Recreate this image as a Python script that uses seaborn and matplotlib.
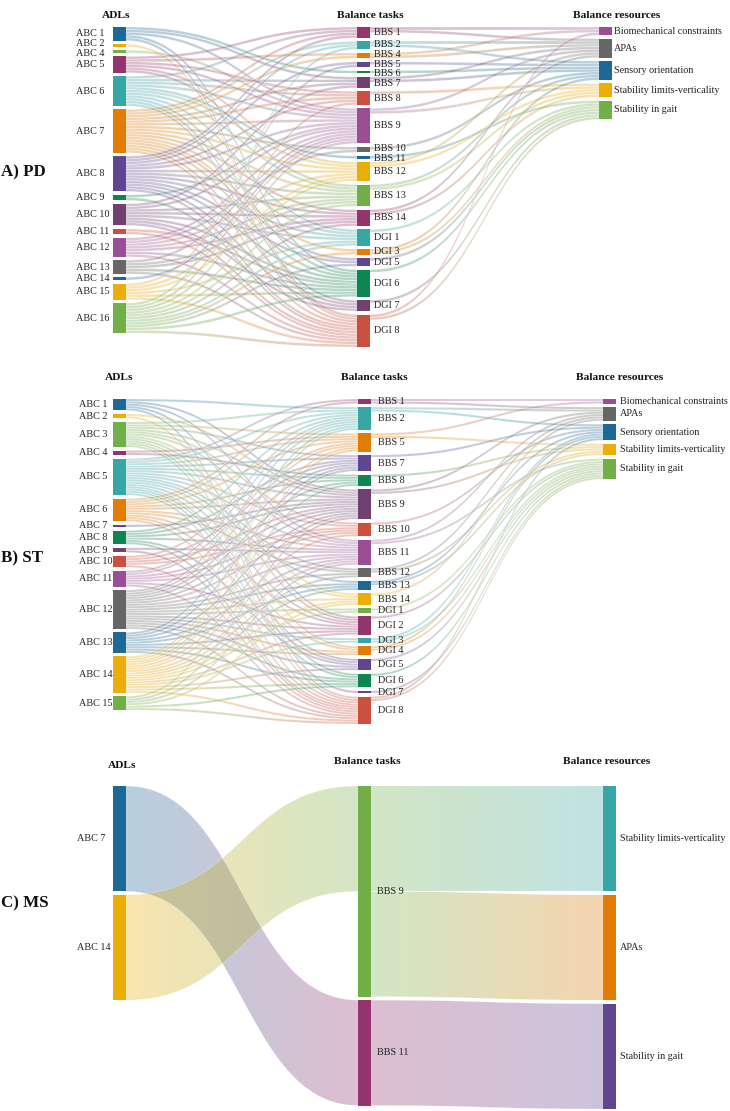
import numpy as np
import matplotlib
matplotlib.use("Agg")
import matplotlib.pyplot as plt
from matplotlib.patches import Polygon, Rectangle
from matplotlib.colors import to_rgb
import seaborn as sns

# colour cycle (Prism), given to nodes in order of appearance
PRISM = ["#1D6996", "#EDAD08", "#73AF48", "#94346E", "#38A6A5", "#E17C05",
         "#5F4690", "#0F8554", "#6F4070", "#CC503E", "#994E95", "#666666"]

panel_names = ["A) PD", "B) ST", "C) MS"]
headers = ["ADLs", "Balance tasks", "Balance resources"]

BC, APA, SO, SL, SG = ("Biomechanical constraints", "APAs", "Sensory orientation",
                       "Stability limits-verticality", "Stability in gait")
resources = [BC, APA, SO, SL, SG]

# ---- A) PD ----
pd_adls = ["ABC 1", "ABC 2", "ABC 4", "ABC 5", "ABC 6", "ABC 7", "ABC 8", "ABC 9",
           "ABC 10", "ABC 11", "ABC 12", "ABC 13", "ABC 14", "ABC 15", "ABC 16"]
pd_tasks = ["BBS 1", "BBS 2", "BBS 4", "BBS 5", "BBS 6", "BBS 7", "BBS 8", "BBS 9",
            "BBS 10", "BBS 11", "BBS 12", "BBS 13", "BBS 14",
            "DGI 1", "DGI 3", "DGI 5", "DGI 6", "DGI 7", "DGI 8"]
pd_adl_links = [
    ["BBS 6", "BBS 7", "BBS 9", "DGI 6", "DGI 8"],
    ["DGI 8"],
    ["BBS 9"],
    ["BBS 1", "BBS 4", "BBS 8", "BBS 9", "BBS 12", "BBS 13"],
    ["BBS 1", "BBS 7", "BBS 8", "BBS 9", "BBS 11", "BBS 12", "BBS 13", "DGI 1", "DGI 6", "DGI 7", "DGI 8"],
    ["BBS 1", "BBS 2", "BBS 4", "BBS 7", "BBS 8", "BBS 9", "BBS 10", "BBS 12", "BBS 13", "BBS 14",
     "DGI 1", "DGI 3", "DGI 5", "DGI 6", "DGI 7", "DGI 8"],
    ["BBS 1", "BBS 2", "BBS 5", "BBS 8", "BBS 9", "BBS 12", "BBS 13", "BBS 14",
     "DGI 1", "DGI 5", "DGI 6", "DGI 7", "DGI 8"],
    ["BBS 9", "DGI 8"],
    ["BBS 7", "BBS 9", "BBS 13", "BBS 14", "DGI 1", "DGI 6", "DGI 7", "DGI 8"],
    ["DGI 6", "DGI 8"],
    ["BBS 9", "BBS 10", "BBS 12", "BBS 13", "BBS 14", "DGI 6", "DGI 8"],
    ["BBS 9", "BBS 13", "BBS 14", "DGI 6", "DGI 8"],
    ["BBS 9"],
    ["BBS 5", "BBS 9", "BBS 12", "DGI 1", "DGI 6", "DGI 8"],
    ["BBS 2", "BBS 8", "BBS 9", "BBS 12", "BBS 13", "BBS 14", "DGI 1", "DGI 3", "DGI 5", "DGI 6", "DGI 8"],
]
pd_task_links = [
    [BC, APA], [APA, SO], [BC, APA], [SO], [SO], [APA, SO], [SL], [APA, SL], [SO], [SG],
    [APA, SL], [SO, SL], [APA, SL], [SG], [SO, SG], [SG], [SG], [SG], [BC, SG],
]

# ---- B) ST ----
st_adls = ["ABC 1", "ABC 2", "ABC 3", "ABC 4", "ABC 5", "ABC 6", "ABC 7", "ABC 8",
           "ABC 9", "ABC 10", "ABC 11", "ABC 12", "ABC 13", "ABC 14", "ABC 15"]
st_tasks = ["BBS 1", "BBS 2", "BBS 5", "BBS 7", "BBS 8", "BBS 9", "BBS 10", "BBS 11",
            "BBS 12", "BBS 13", "BBS 14", "DGI 1", "DGI 2", "DGI 3", "DGI 4",
            "DGI 5", "DGI 6", "DGI 7", "DGI 8"]
st_adl_links = [
    ["BBS 2", "BBS 9", "BBS 11", "DGI 2", "DGI 7"],
    ["BBS 9", "DGI 8"],
    ["BBS 2", "BBS 5", "BBS 7", "BBS 9", "BBS 10", "BBS 11", "BBS 14", "DGI 2", "DGI 4", "DGI 6", "DGI 8"],
    ["BBS 5", "BBS 8"],
    ["BBS 1", "BBS 2", "BBS 5", "BBS 7", "BBS 8", "BBS 9", "BBS 10", "BBS 11", "BBS 12", "BBS 13",
     "BBS 14", "DGI 2", "DGI 4", "DGI 5", "DGI 6", "DGI 8"],
    ["BBS 1", "BBS 2", "BBS 5", "BBS 8", "BBS 9", "BBS 11", "BBS 12", "DGI 2", "DGI 5", "DGI 8"],
    ["BBS 9"],
    ["BBS 2", "BBS 7", "BBS 9", "BBS 11", "DGI 5", "DGI 8"],
    ["BBS 11", "DGI 8"],
    ["BBS 2", "BBS 7", "BBS 9", "BBS 10", "DGI 8"],
    ["BBS 2", "BBS 5", "BBS 9", "BBS 10", "BBS 11", "DGI 2", "DGI 8"],
    ["BBS 2", "BBS 5", "BBS 7", "BBS 8", "BBS 9", "BBS 10", "BBS 11", "BBS 12", "BBS 13", "BBS 14",
     "DGI 1", "DGI 2", "DGI 3", "DGI 4", "DGI 5", "DGI 6", "DGI 8"],
    ["BBS 2", "BBS 7", "BBS 9", "BBS 11", "BBS 13", "DGI 2", "DGI 4", "DGI 6", "DGI 8"],
    ["BBS 2", "BBS 5", "BBS 7", "BBS 8", "BBS 9", "BBS 10", "BBS 11", "BBS 12", "BBS 13", "BBS 14",
     "DGI 1", "DGI 2", "DGI 3", "DGI 5", "DGI 6", "DGI 8"],
    ["BBS 5", "BBS 9", "BBS 11", "BBS 14", "DGI 6", "DGI 8"],
]
st_task_links = [
    [BC, APA], [APA, SO], [BC, SL], [SO], [SL], [APA, SL], [SO], [APA, SG], [APA, SL],
    [SO, SL], [APA], [SG], [SG], [SO, SG], [SO, SG], [SG], [SG], [SG], [SO, SG],
]

# ---- C) MS ----
ms_adls = ["ABC 7", "ABC 14"]
ms_tasks = ["BBS 9", "BBS 11"]
ms_resources = [SL, APA, SG]
ms_adl_links = [["BBS 11"], ["BBS 9"]]
ms_task_links = [[SL, APA], [SG]]


def link_table(sources, targets_per_source):
    return [(s, t, 1) for s, ts in zip(sources, targets_per_source) for t in ts]


def band_points(x0, x1, s0, s1, t0, t1, n=48):
    t = np.linspace(0, 1, n)
    xm = (x0 + x1) / 2
    bx = (1 - t) ** 3 * x0 + 3 * (1 - t) ** 2 * t * xm + 3 * (1 - t) * t ** 2 * xm + t ** 3 * x1
    s = 3 * t ** 2 - 2 * t ** 3
    top = np.column_stack([bx, s0 + (t0 - s0) * s])
    bot = np.column_stack([bx, s1 + (t1 - s1) * s])
    return np.vstack([top, bot[::-1]])


def spread(ys, gap):
    # push overlapping labels apart a little, like the original renderer
    ys = list(ys)
    for _ in range(100):
        moved = False
        for i in range(len(ys) - 1):
            d = ys[i + 1] - ys[i]
            if d < gap - 0.01:
                m = (gap - d) / 2
                ys[i] -= m
                ys[i + 1] += m
                moved = True
        if not moved:
            break
    return ys


def draw_sankey(ax, columns, links, top, bottom, xs, width=13, pad=3.5, alpha=0.32):
    names = [n for col in columns for n in col]
    colors = {n: PRISM[i % len(PRISM)] for i, n in enumerate(names)}
    col_of = {n: ci for ci, col in enumerate(columns) for n in col}
    inflow = {n: 0 for n in names}
    outflow = {n: 0 for n in names}
    for s, t, v in links:
        outflow[s] += v
        inflow[t] += v
    size = {n: max(inflow[n], outflow[n]) for n in names}
    ky = min((bottom - top - pad * (len(col) - 1)) / sum(size[n] for n in col) for col in columns)
    y0 = {}
    for col in columns:
        y = top
        for n in col:
            y0[n] = y
            y += size[n] * ky + pad

    # order links at each node by the position of the other end
    out_off = {n: y0[n] for n in names}
    in_off = {n: y0[n] for n in names}
    src_y, tgt_y = {}, {}
    for i in sorted(range(len(links)), key=lambda k: (names.index(links[k][0]), y0[links[k][1]])):
        s, t, v = links[i]
        src_y[i] = out_off[s]
        out_off[s] += v * ky
    for i in sorted(range(len(links)), key=lambda k: (names.index(links[k][1]), y0[links[k][0]])):
        s, t, v = links[i]
        tgt_y[i] = in_off[t]
        in_off[t] += v * ky

    g = np.linspace(0, 1, 400)[:, None]
    for i, (s, t, v) in enumerate(links):
        x0 = xs[col_of[s]] + width
        x1 = xs[col_of[t]]
        w = v * ky
        pts = band_points(x0, x1, src_y[i], src_y[i] + w, tgt_y[i], tgt_y[i] + w)
        img = np.zeros((1, 400, 4))
        img[0, :, :3] = np.array(to_rgb(colors[s])) * (1 - g) + np.array(to_rgb(colors[t])) * g
        img[0, :, 3] = alpha
        im = ax.imshow(img, extent=(x0, x1, pts[:, 1].max(), pts[:, 1].min()),
                       aspect="auto", interpolation="nearest", zorder=1)
        im.set_clip_path(Polygon(pts, closed=True, transform=ax.transData))
        ax.add_patch(Polygon(pts, closed=True, fill=False, edgecolor="white",
                             linewidth=0.3, alpha=0.5, zorder=1.5))

    for n in names:
        ax.add_patch(Rectangle((xs[col_of[n]], y0[n]), width, size[n] * ky,
                               facecolor=colors[n], linewidth=0, zorder=3))
    return y0, size, ky, col_of


sns.set_theme(style="white")
plt.rcParams["font.family"] = ["Liberation Serif", "DejaVu Serif"]

fig = plt.figure(figsize=(7.3, 11.11), dpi=100)
ax = fig.add_axes([0, 0, 1, 1])

panels = [
    dict(cols=[pd_adls, pd_tasks, resources], a=pd_adl_links, b=pd_task_links,
         top=27, bottom=347, xs=(113, 357, 599), head_y=15, head_x=(116, 370, 617),
         label_x=(76, 374, 614), name_y=172),
    dict(cols=[st_adls, st_tasks, resources], a=st_adl_links, b=st_task_links,
         top=399, bottom=724, xs=(113, 358, 603), head_y=377, head_x=(119, 374, 620),
         label_x=(79, 378, 620), name_y=558),
    dict(cols=[ms_adls, ms_tasks, ms_resources], a=ms_adl_links, b=ms_task_links,
         top=786, bottom=1109, xs=(113, 358, 603), head_y=761, head_x=(122, 367, 607),
         label_x=(77, 377, 620), name_y=903),
]

for name, p in zip(panel_names, panels):
    links = link_table(p["cols"][0], p["a"]) + link_table(p["cols"][1], p["b"])
    y0, size, ky, col_of = draw_sankey(ax, p["cols"], links, p["top"], p["bottom"], p["xs"])
    for c, col in enumerate(p["cols"]):
        centers = spread([y0[n] + size[n] * ky / 2 for n in col], 9.6)
        for n, yc in zip(col, centers):
            ax.text(p["label_x"][c], yc, n, ha="left", va="center",
                    fontsize=7.3, color="#222222", zorder=4)
    for c, h in enumerate(headers):
        dy = 5 if (c == 0 and name.startswith("C")) else 0
        ax.text(p["head_x"][c], p["head_y"] + dy, h, ha="center", va="center",
                fontsize=8.2, fontweight="bold", color="#111111")
    ax.text(1, p["name_y"], name, ha="left", va="center", fontsize=12.2,
            fontweight="bold", color="#111111")

ax.set_xlim(0, 730)
ax.set_ylim(1111, 0)
ax.set_aspect("auto")
ax.axis("off")
fig.savefig("out.png", dpi=100, facecolor="white")
